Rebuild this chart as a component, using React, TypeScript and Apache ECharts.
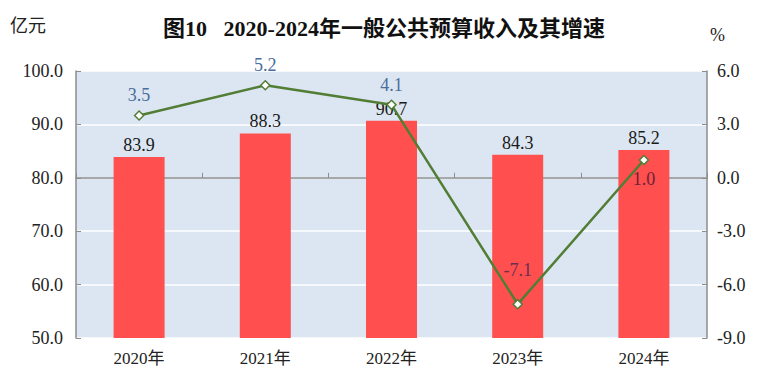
import React, { useEffect, useRef } from "react";
import * as echarts from "echarts";

const categories = ["2020年", "2021年", "2022年", "2023年", "2024年"];
const revenue = [83.9, 88.3, 90.7, 84.3, 85.2];
const growth = [3.5, 5.2, 4.1, -7.1, 1.0];
const leftTicks = { min: 50, max: 100, interval: 10 };
const rightTicks = { min: -9, max: 6, interval: 3 };

const SERIF = "Liberation Serif, Noto Sans CJK SC, serif";

export default function App() {
  const ref = useRef<HTMLDivElement>(null);
  useEffect(() => {
    if (!ref.current) return;
    const chart = echarts.init(ref.current, undefined, { renderer: "svg" });
    chart.setOption({
      animation: false,
      backgroundColor: "#ffffff",
      textStyle: { fontFamily: SERIF },
      title: {
        text: "图10   2020-2024年一般公共预算收入及其增速",
        left: "center",
        top: 12,
        textStyle: { fontFamily: SERIF, fontSize: 22, fontWeight: "bold", color: "#111" },
      },
      graphic: [
        { type: "text", left: 10, top: 17, style: { text: "亿元", fontFamily: SERIF, fontSize: 18, fill: "#222" } },
        { type: "text", left: 710, top: 26, style: { text: "%", fontFamily: SERIF, fontSize: 18, fill: "#222" } },
      ],
      grid: {
        left: 76,
        right: 61,
        top: 71,
        bottom: 51,
        show: true,
        backgroundColor: "#dce6f2",
        borderWidth: 0,
      },
      xAxis: {
        type: "category",
        data: categories,
        axisLine: { show: true, lineStyle: { color: "#8c8c8c", width: 1.5 } },
        axisTick: { show: true, inside: true, length: 5, lineStyle: { color: "#8c8c8c" } },
        axisLabel: { fontFamily: SERIF, fontSize: 17, color: "#222", margin: 12 },
      },
      yAxis: [
        {
          type: "value",
          ...leftTicks,
          position: "left",
          axisLine: { show: true, lineStyle: { color: "#8c8c8c", width: 1.5 } },
          axisTick: { show: true, inside: true, length: 5, lineStyle: { color: "#8c8c8c" } },
          splitLine: { show: true, lineStyle: { color: "#ffffff", width: 1.5 } },
          axisLabel: { fontFamily: SERIF, fontSize: 18, color: "#222", margin: 13, formatter: (v: number) => v.toFixed(1) },
        },
        {
          type: "value",
          ...rightTicks,
          position: "right",
          axisLine: { show: true, lineStyle: { color: "#8c8c8c", width: 1.5 } },
          axisTick: { show: true, inside: true, length: 5, lineStyle: { color: "#8c8c8c" } },
          splitLine: { show: false },
          axisLabel: { fontFamily: SERIF, fontSize: 18, color: "#222", margin: 10, formatter: (v: number) => v.toFixed(1) },
        },
      ],
      series: [
        {
          type: "bar",
          data: revenue,
          barWidth: 51,
          itemStyle: { color: "#ff4f4f" },
          label: {
            show: true,
            position: "top",
            distance: 3,
            fontFamily: SERIF,
            fontSize: 18,
            color: "#1a1a1a",
            formatter: (p: any) => p.value.toFixed(1),
          },
        },
        {
          type: "line",
          yAxisIndex: 1,
          data: growth.map((v, i) => ({
            value: v,
            label:
              i === 4
                ? { position: "bottom", distance: 5, color: "#6a2436" }
                : i === 3
                ? { position: "top", distance: 20, color: "#6a3050" }
                : { position: "top", distance: 6 },
          })),
          symbol: "diamond",
          symbolSize: 9,
          lineStyle: { color: "#517d34", width: 2.5 },
          itemStyle: { color: "#ffffff", borderColor: "#517d34", borderWidth: 1.5 },
          label: {
            show: true,
            position: "top",
            fontFamily: SERIF,
            fontSize: 18,
            color: "#4a6d9c",
            formatter: (p: any) => p.value.toFixed(1),
          },
          z: 5,
        },
      ],
    });
    return () => chart.dispose();
  }, []);
  return <div ref={ref} style={{ width: 768, height: 389, position: "absolute", left: 0, top: 0 }} />;
}
